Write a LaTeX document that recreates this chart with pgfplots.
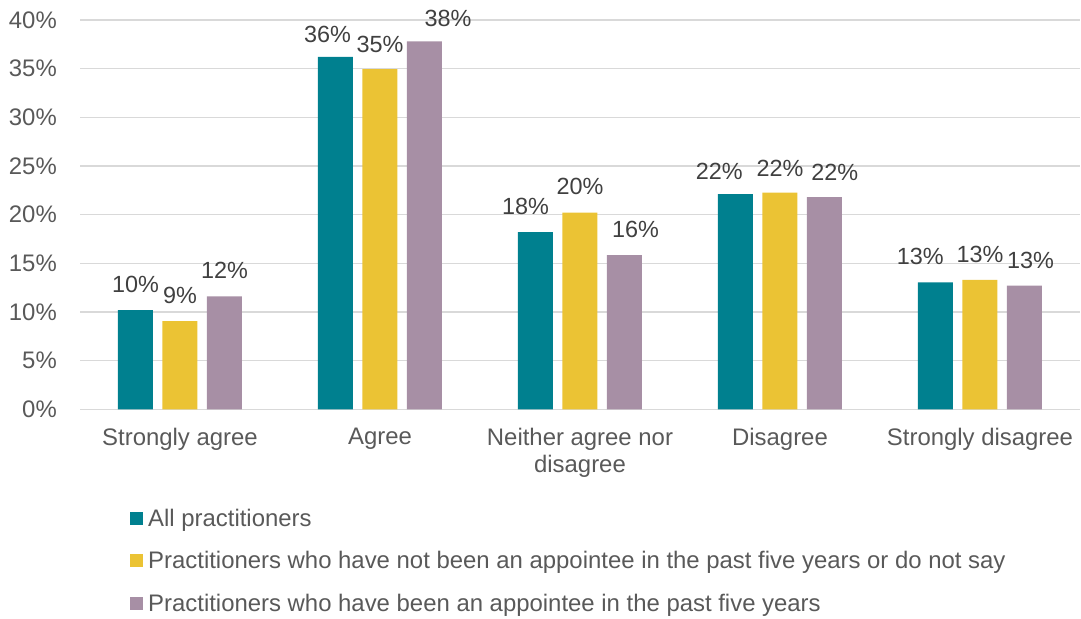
\documentclass[border=0pt]{standalone}
\usepackage{pgfplots}
\pgfplotsset{compat=1.18}
\usepackage{fontspec}
\setmainfont{Liberation Sans}
\definecolor{cteal}{HTML}{00808F}
\definecolor{cyellow}{HTML}{EBC334}
\definecolor{cmauve}{HTML}{A78FA5}
\definecolor{cgrid}{HTML}{D9D9D9}
\definecolor{ctext}{HTML}{595959}
\definecolor{clabel}{HTML}{404040}
\begin{document}
\begin{tikzpicture}
\useasboundingbox (0,0) rectangle (1081bp,619bp);
\begin{axis}[
  at={(80bp,209.7bp)}, anchor=south west,
  scale only axis, width=1000bp, height=389.3bp,
  xmin=-0.5, xmax=4.5, ymin=0, ymax=40,
  ybar=9.5bp, bar width=35bp,
  clip=false,
  axis line style={draw=none},
  major tick length=0pt,
  ytick={0,5,...,40},
  yticklabels={0\%,5\%,10\%,15\%,20\%,25\%,30\%,35\%,40\%},
  ymajorgrids, grid style={draw=cgrid, line width=1.5bp},
  xtick=data,
  xticklabels={Strongly agree, Agree, {Neither agree nor\\disagree}, Disagree, Strongly disagree},
  xticklabel style={anchor=north, inner sep=0pt, yshift=-18.8bp, align=center, text=ctext, font=\fontsize{24}{27}\selectfont},
  yticklabel style={anchor=east, inner sep=0pt, xshift=-23bp, text=ctext, font=\fontsize{24}{27}\selectfont},
  /pgf/number format/assume math mode=true,
  visualization depends on={\thisrow{dx} \as \dx},
  visualization depends on={\thisrow{dy} \as \dy},
  nodes near coords={\pgfmathprintnumber[fixed,precision=0]{\pgfplotspointmeta}\%},
  every node near coord/.append style={anchor=base, xshift=\dx bp, yshift=\dy bp, inner sep=0pt, text=clabel, font=\fontsize{23.5}{27}\selectfont},
  legend cell align=left,
  legend style={at={(0.05,-0.255)}, anchor=north west, draw=none, fill=none, inner sep=0pt,
    font=\fontsize{24}{27}\selectfont, text=ctext,
    nodes={inner sep=0pt, text height=17.5bp, text depth=5bp},
    row sep=20.1bp,
    /tikz/every odd column/.append style={column sep=5bp}},
  legend image code/.code={\fill[#1, draw=none] (0bp,-4.5bp) rectangle (13bp,8.5bp);},
]
\addplot[fill=cteal, draw=none] table[x=x, y=y] {
x y dx dy
0 10.2 0 17.7
1 36.2 -8 14.3
2 18.2 -10 18
3 22.1 -16.2 14.3
4 13.05 -15.2 17.3
};
\addplot[fill=cyellow, draw=none] table[x=x, y=y] {
x y dx dy
0 9.05 0 18
1 34.95 0 17
2 20.2 0 18
3 22.25 0 16
4 13.3 0 17.3
};
\addplot[fill=cmauve, draw=none] table[x=x, y=y] {
x y dx dy
0 11.6 0 18
1 37.8 23.5 15
2 15.85 11 17.3
3 21.8 10.2 17
4 12.7 6 16.7
};
\legend{All practitioners, Practitioners who have not been an appointee in the past five years or do not say, Practitioners who have been an appointee in the past five years}
\end{axis}
\end{tikzpicture}
\end{document}
